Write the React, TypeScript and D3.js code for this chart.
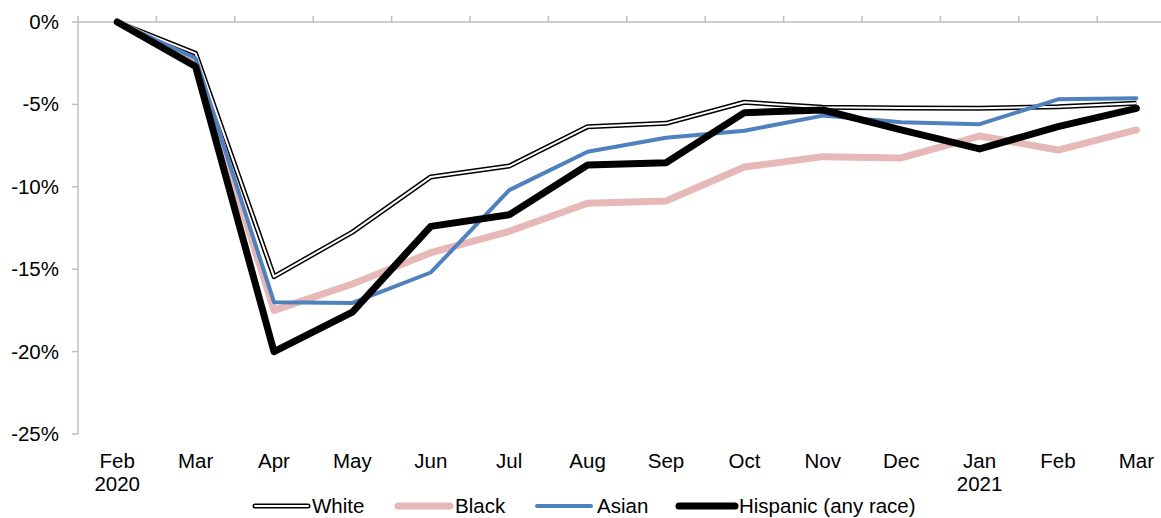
import React from "react";
import * as d3 from "d3";

const months = ["Feb", "Mar", "Apr", "May", "Jun", "Jul", "Aug", "Sep", "Oct", "Nov", "Dec", "Jan", "Feb", "Mar"];
const years = ["2020", "", "", "", "", "", "", "", "", "", "", "2021", "", ""];
const yTicks = [0, -5, -10, -15, -20, -25];

const white = [0, -1.9, -15.45, -12.75, -9.4, -8.74, -6.35, -6.15, -4.87, -5.18, -5.22, -5.24, -5.14, -4.93];
const black = [0, -2.4, -17.5, -15.9, -14.0, -12.7, -11.0, -10.86, -8.8, -8.17, -8.25, -6.92, -7.77, -6.55];
const asian = [0, -2.2, -17.0, -17.05, -15.2, -10.2, -7.87, -7.02, -6.6, -5.68, -6.09, -6.2, -4.69, -4.63];
const hispanic = [0, -2.7, -20.0, -17.6, -12.4, -11.7, -8.68, -8.54, -5.5, -5.34, -6.55, -7.7, -6.35, -5.24];

const seriesNames = ["White", "Black", "Asian", "Hispanic (any race)"];

const W = 1161;
const H = 518;
const FONT = "'Liberation Sans', Arial, sans-serif";
const FS = 20.5;

export default function App() {
  const idx = months.map((_, i) => String(i));
  const x = d3.scaleBand<string>().domain(idx).range([78, 78 + 14 * 78.4]).padding(0);
  const y = d3.scaleLinear().domain([-25, 0]).range([434, 22]);
  const cx = (i: number) => (x(String(i)) as number) + x.bandwidth() / 2;
  const line = d3
    .line<number>()
    .x((_, i) => cx(i))
    .y((d) => y(d))
    .curve(d3.curveLinear);

  const series = [
    { name: seriesNames[0], data: white, kind: "double" },
    { name: seriesNames[1], data: black, color: "#E6B9B8", width: 7 },
    { name: seriesNames[2], data: asian, color: "#4F81BD", width: 4 },
    { name: seriesNames[3], data: hispanic, color: "#000000", width: 7 },
  ];

  const legendPos = [
    { x1: 255, x2: 308, tx: 312 },
    { x1: 398, x2: 450, tx: 455 },
    { x1: 537, x2: 591, tx: 597 },
    { x1: 679, x2: 735, tx: 739 },
  ];
  const LY = 506;
  const LTY = 513;

  const axisColor = "#BFBFBF";

  return (
    <svg width={W} height={H} style={{ position: "absolute", left: 0, top: 0 }} fontFamily={FONT}>
      <rect width={W} height={H} fill="#fff" />
      {/* top category axis */}
      <line x1={78} x2={W} y1={22} y2={22} stroke={axisColor} strokeWidth={1.5} />
      {d3.range(15).map((i) => {
        const xx = 78 + i * x.bandwidth();
        return <line key={"xt" + i} x1={xx} x2={xx} y1={16} y2={22} stroke={axisColor} strokeWidth={1.5} />;
      })}
      {/* y axis */}
      <line x1={78} x2={78} y1={22} y2={434} stroke={axisColor} strokeWidth={1.5} />
      {yTicks.map((t) => (
        <g key={"yt" + t}>
          <line x1={72} x2={78} y1={y(t)} y2={y(t)} stroke={axisColor} strokeWidth={1.5} />
          <text x={59} y={y(t) + 7} textAnchor="end" fontSize={FS} fill="#000">
            {t + "%"}
          </text>
        </g>
      ))}
      {/* category labels */}
      {months.map((m, i) => (
        <g key={"xl" + i}>
          <text x={cx(i)} y={468} textAnchor="middle" fontSize={FS} fill="#000">
            {m}
          </text>
          {years[i] && (
            <text x={cx(i)} y={491} textAnchor="middle" fontSize={FS} fill="#000">
              {years[i]}
            </text>
          )}
        </g>
      ))}
      {/* series */}
      {series.map((s) =>
        s.kind === "double" ? (
          <g key={s.name}>
            <path d={line(s.data) || ""} fill="none" stroke="#000" strokeWidth={5} strokeLinejoin="round" />
            <path d={line(s.data) || ""} fill="none" stroke="#fff" strokeWidth={2} strokeLinejoin="round" />
          </g>
        ) : (
          <path
            key={s.name}
            d={line(s.data) || ""}
            fill="none"
            stroke={s.color}
            strokeWidth={s.width}
            strokeLinejoin="round"
            strokeLinecap="round"
          />
        )
      )}
      {/* legend */}
      {series.map((s, i) => {
        const p = legendPos[i];
        return (
          <g key={"lg" + i}>
            {s.kind === "double" ? (
              <>
                <line x1={p.x1} x2={p.x2} y1={LY} y2={LY} stroke="#000" strokeWidth={5} strokeLinecap="round" />
                <line x1={p.x1} x2={p.x2} y1={LY} y2={LY} stroke="#fff" strokeWidth={2} strokeLinecap="round" />
              </>
            ) : (
              <line x1={p.x1} x2={p.x2} y1={LY} y2={LY} stroke={s.color} strokeWidth={s.width} strokeLinecap="round" />
            )}
            <text x={p.tx} y={LTY} fontSize={FS} fill="#000">
              {s.name}
            </text>
          </g>
        );
      })}
    </svg>
  );
}
